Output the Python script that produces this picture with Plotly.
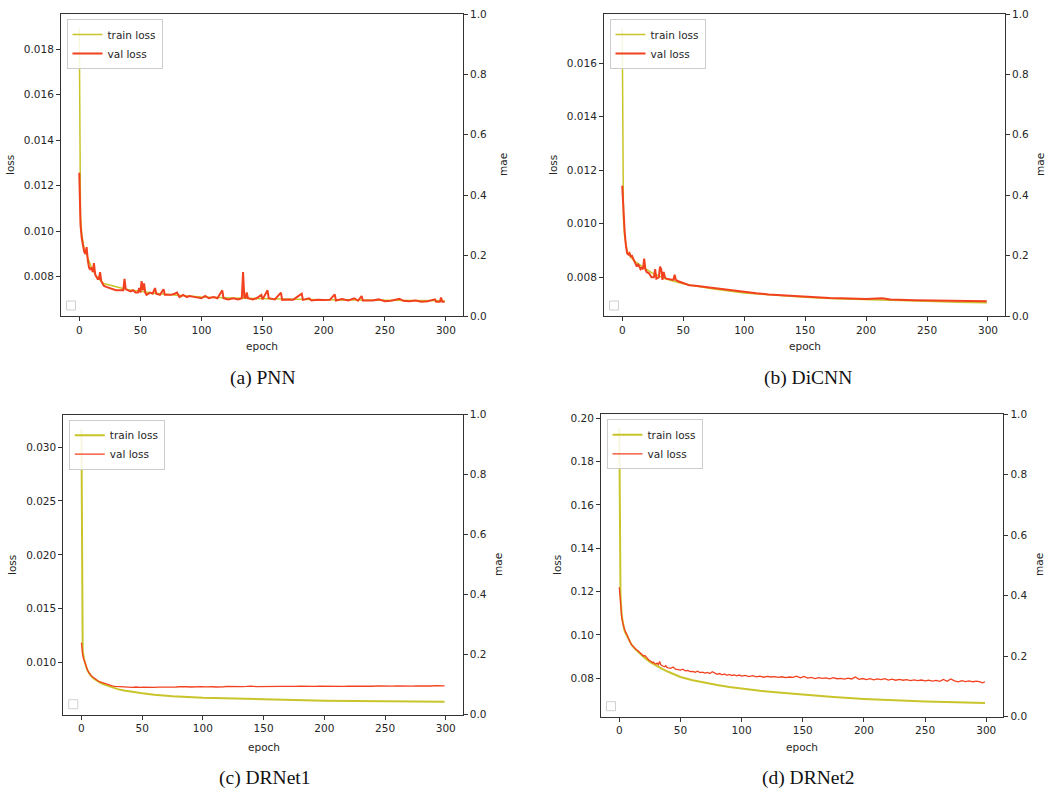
import plotly.graph_objects as go

W, H = 1062, 794

# ---------------- data ----------------
epoch_ticks = [0, 50, 100, 150, 200, 250, 300]
mae_ticks = [0.0, 0.2, 0.4, 0.6, 0.8, 1.0]
captions = ["(a) PNN", "(b) DiCNN", "(c) DRNet1", "(d) DRNet2"]
series_names = ["train loss", "val loss"]

# (a) PNN
a_train_epoch = [0, 1, 2, 3, 4, 5, 7, 10, 13, 16, 20, 25, 30, 35, 40, 50, 60, 75, 100, 125, 150, 175, 200, 250, 299]
a_train_loss = [0.0189, 0.0107, 0.0099, 0.0094, 0.0092, 0.0091, 0.0088, 0.0084, 0.0081, 0.0079, 0.0077, 0.00762,
                0.00755, 0.00749, 0.00743, 0.00735, 0.00728, 0.0072, 0.00711, 0.00706, 0.00703, 0.00701, 0.00699,
                0.00696, 0.00694]
a_val_epoch = [0, 1, 2, 3, 4, 5, 6, 7, 8, 9, 10, 11, 12, 13, 14, 15, 16, 17, 18, 20, 22, 25, 28, 30, 33, 36, 37, 38,
               40, 42, 44, 46, 48, 49, 50, 51, 52, 53, 54, 55, 58, 60, 62, 63, 66, 69, 70, 75, 78, 80, 82, 85, 88,
               90, 95, 100, 103, 106, 110, 113, 117, 118, 122, 126, 130, 133, 134, 135, 136, 137, 138, 142, 145,
               149, 150, 154, 155, 160, 165, 166, 170, 175, 178, 182, 183, 188, 190, 195, 200, 205, 209, 210, 215,
               220, 225, 228, 231, 232, 240, 245, 250, 255, 262, 265, 270, 275, 280, 285, 291, 292, 295, 296, 297,
               299]
a_val_loss = [0.01257, 0.0103, 0.0097, 0.0094, 0.0091, 0.0090, 0.0093, 0.0087, 0.0084, 0.0083, 0.0084, 0.0082,
              0.0086, 0.0081, 0.0080, 0.0079, 0.0079, 0.0082, 0.0078, 0.0076, 0.00755, 0.0075, 0.00745, 0.0074,
              0.0074, 0.0074, 0.0079, 0.00745, 0.0074, 0.00735, 0.0074, 0.0073, 0.0073, 0.0075, 0.0073, 0.0078,
              0.0074, 0.0077, 0.0073, 0.0072, 0.0073, 0.00725, 0.0075, 0.00725, 0.0072, 0.00745, 0.0072, 0.0072,
              0.00725, 0.0073, 0.0071, 0.0072, 0.0071, 0.00715, 0.0071, 0.00705, 0.00715, 0.00705, 0.0071, 0.00705,
              0.0074, 0.00705, 0.0070, 0.00705, 0.0070, 0.00705, 0.0082, 0.0071, 0.00705, 0.0073, 0.00705, 0.0070,
              0.00705, 0.0072, 0.0070, 0.0074, 0.00705, 0.0070, 0.0073, 0.00698, 0.0070, 0.00698, 0.0071, 0.00725,
              0.00698, 0.00705, 0.00695, 0.00698, 0.00697, 0.00698, 0.00722, 0.00695, 0.00702, 0.00695, 0.00705,
              0.00694, 0.00715, 0.00695, 0.00695, 0.0070, 0.00692, 0.00694, 0.00703, 0.00694, 0.00692, 0.00695,
              0.0069, 0.00692, 0.0070, 0.0069, 0.0069, 0.00708, 0.0069, 0.0069]

# (b) DiCNN
b_train_epoch = [0, 1, 2, 3, 4, 5, 7, 10, 13, 16, 20, 25, 30, 35, 40, 50, 60, 75, 100, 125, 150, 175, 200, 225, 250, 275, 299]
b_train_loss = [0.0173, 0.0102, 0.0095, 0.0092, 0.0090, 0.0089, 0.00875, 0.0086, 0.0085, 0.0084, 0.0083, 0.00815,
                0.00805, 0.00795, 0.00788, 0.00776, 0.00767, 0.00756, 0.00741, 0.00732, 0.00725, 0.0072, 0.00716,
                0.00713, 0.0071, 0.00707, 0.00705]
b_val_epoch = [0, 1, 2, 3, 4, 5, 6, 7, 8, 9, 10, 11, 12, 13, 14, 15, 16, 17, 18, 19, 20, 22, 24, 26, 27, 28, 30, 31,
               32, 33, 34, 35, 36, 40, 42, 43, 44, 46, 50, 55, 60, 65, 70, 75, 80, 85, 90, 95, 100, 110, 120, 130,
               140, 150, 160, 170, 180, 190, 200, 213, 220, 240, 260, 280, 299]
b_val_loss = [0.01142, 0.0104, 0.0097, 0.0092, 0.0089, 0.00885, 0.0089, 0.00878, 0.0088, 0.0087, 0.0086, 0.00855,
              0.0084, 0.0085, 0.0084, 0.0083, 0.00835, 0.0083, 0.0087, 0.0083, 0.0082, 0.00815, 0.0080, 0.0080,
              0.0083, 0.00795, 0.0080, 0.0084, 0.0083, 0.0079, 0.0082, 0.0080, 0.00795, 0.0079, 0.0079, 0.0081,
              0.0079, 0.00785, 0.00778, 0.0077, 0.00768, 0.00765, 0.00762, 0.0076, 0.00757, 0.00755, 0.0075, 0.00747,
              0.00745, 0.0074, 0.00736, 0.00733, 0.0073, 0.00728, 0.00725, 0.00723, 0.00722, 0.0072, 0.00719,
              0.00722, 0.00717, 0.00714, 0.00712, 0.0071, 0.0071]

# (c) DRNet1
c_train_epoch = [0, 1, 2, 3, 4, 5, 7, 10, 13, 16, 20, 25, 30, 35, 40, 50, 60, 75, 100, 125, 150, 175, 200, 225, 250, 275, 299]
c_train_loss = [0.0317, 0.0112, 0.0104, 0.0099, 0.0096, 0.0093, 0.0089, 0.00855, 0.0083, 0.00812, 0.00792, 0.00772,
                0.00755, 0.00743, 0.00733, 0.00716, 0.00703, 0.0069, 0.00676, 0.00667, 0.0066, 0.00654, 0.00648,
                0.00645, 0.00642, 0.0064, 0.00639]
c_val_epoch = [0, 1, 2, 3, 4, 5, 6, 7, 8, 9, 10, 12, 14, 16, 18, 20, 22, 24, 26, 28, 30, 33, 36, 39, 42, 45, 48, 51,
               54, 57, 60, 63, 66, 69, 72, 75, 78, 81, 84, 87, 90, 93, 96, 99, 102, 105, 108, 111, 114, 117, 120,
               124, 128, 132, 136, 140, 144, 148, 152, 156, 160, 164, 168, 172, 176, 180, 184, 188, 192, 196, 200,
               204, 208, 212, 216, 220, 224, 228, 232, 236, 240, 244, 248, 252, 256, 260, 264, 268, 272, 276, 280,
               284, 288, 292, 296, 299]
c_val_loss = [0.01185, 0.0107, 0.0103, 0.0099, 0.0096, 0.0093, 0.0091, 0.0089, 0.0088, 0.0087, 0.0086, 0.00842,
              0.00828, 0.0082, 0.00812, 0.00802, 0.00796, 0.00788, 0.00784, 0.0078, 0.00778, 0.00776, 0.00774,
              0.00776, 0.00772, 0.00775, 0.00771, 0.00774, 0.00772, 0.00775, 0.00771, 0.00774, 0.00773, 0.00777,
              0.00774, 0.00776, 0.00775, 0.00778, 0.00774, 0.00777, 0.00775, 0.00778, 0.00776, 0.00779, 0.00776,
              0.00778, 0.00777, 0.00775, 0.00779, 0.00777, 0.0078, 0.00777, 0.00779, 0.00778, 0.0078, 0.00783,
              0.00778, 0.0078, 0.00779, 0.00782, 0.00779, 0.00781, 0.0078, 0.00783, 0.0078, 0.00782, 0.00779,
              0.00783, 0.0078, 0.00782, 0.00781, 0.00784, 0.00781, 0.00783, 0.0078, 0.00783, 0.00782, 0.00785,
              0.00781, 0.00784, 0.00782, 0.00785, 0.00782, 0.00784, 0.00783, 0.00786, 0.00783, 0.00785, 0.00783,
              0.00786, 0.00784, 0.00786, 0.00784, 0.00787, 0.00784, 0.00786]

# (d) DRNet2
d_train_epoch = [0, 1, 2, 3, 4, 5, 7, 10, 13, 16, 20, 25, 30, 35, 40, 45, 50, 60, 70, 80, 90, 100, 115, 130, 150, 175, 200, 225, 250, 275, 299]
d_train_loss = [0.1955, 0.118, 0.109, 0.105, 0.1025, 0.1010, 0.0985, 0.0955, 0.0935, 0.0918, 0.0898, 0.0876, 0.0858,
                0.0843, 0.0830, 0.0817, 0.0806, 0.0791, 0.0779, 0.0769, 0.0760, 0.0752, 0.0742, 0.0734, 0.0724,
                0.0714, 0.0705, 0.0698, 0.0693, 0.0689, 0.0686]
d_val_epoch = [0, 1, 2, 3, 4, 5, 6, 7, 8, 9, 10, 11, 12, 13, 14, 15, 16, 17, 18, 19, 20, 21, 22, 23, 24, 25, 26, 27,
               28, 29, 30, 31, 32, 33, 34, 35, 36, 37, 38, 39, 40, 42, 44, 46, 48, 50, 52, 54, 56, 58, 60, 62, 64,
               66, 68, 70, 72, 74, 76, 78, 80, 82, 84, 86, 88, 90, 92, 94, 96, 98, 100, 103, 106, 109, 112, 115,
               118, 121, 124, 127, 130, 133, 136, 139, 142, 145, 148, 151, 154, 157, 160, 163, 166, 169, 172, 175,
               178, 181, 184, 187, 190, 193, 196, 199, 202, 205, 208, 211, 214, 217, 220, 223, 226, 229, 232, 235,
               238, 241, 244, 247, 250, 253, 256, 259, 262, 265, 268, 271, 274, 277, 280, 283, 286, 289, 292, 295,
               297, 299]
d_val_loss = [0.1220, 0.113, 0.108, 0.105, 0.103, 0.1015, 0.1005, 0.099, 0.0975, 0.0965, 0.0955, 0.0948, 0.0942,
              0.0938, 0.0932, 0.0928, 0.0922, 0.0915, 0.0912, 0.0906, 0.0902, 0.0905, 0.0895, 0.0892, 0.0885,
              0.0882, 0.0878, 0.0872, 0.0875, 0.0868, 0.0866, 0.0870, 0.0863, 0.0877, 0.0862, 0.0858, 0.0855,
              0.0853, 0.0858, 0.0850, 0.0848, 0.0846, 0.0852, 0.0842, 0.0840, 0.0838, 0.0842, 0.0834, 0.0836,
              0.0831, 0.0832, 0.0828, 0.0833, 0.0826, 0.0828, 0.0824, 0.0827, 0.0822, 0.0830, 0.0822, 0.0818,
              0.0822, 0.0816, 0.0820, 0.0814, 0.0818, 0.0813, 0.0816, 0.0811, 0.0815, 0.0810, 0.0813, 0.0808,
              0.0812, 0.0807, 0.0810, 0.0805, 0.0809, 0.0806, 0.0808, 0.0804, 0.0807, 0.0803, 0.0806, 0.0804,
              0.0810, 0.0802, 0.0809, 0.0801, 0.0804, 0.0799, 0.0803, 0.0800, 0.0802, 0.0797, 0.0803, 0.0798,
              0.0800, 0.0796, 0.0801, 0.0797, 0.0806, 0.0795, 0.0799, 0.0794, 0.0798, 0.0793, 0.0797, 0.0794,
              0.0798, 0.0792, 0.0796, 0.0791, 0.0795, 0.0791, 0.0794, 0.0789, 0.0793, 0.0789, 0.0792, 0.0788,
              0.0791, 0.0787, 0.0790, 0.0786, 0.0795, 0.0786, 0.0797, 0.0788, 0.0784, 0.0789, 0.0785, 0.0788,
              0.0784, 0.0787, 0.0783, 0.0779, 0.0784]

loss_ticks = [
    [0.008, 0.010, 0.012, 0.014, 0.016, 0.018],
    [0.008, 0.010, 0.012, 0.014, 0.016],
    [0.010, 0.015, 0.020, 0.025, 0.030],
    [0.08, 0.10, 0.12, 0.14, 0.16, 0.18, 0.20],
]

# ---------------- layout / style ----------------
TRAIN_C = "#c9c42a"
VAL_C = "#f2411f"
AX_C = "#333333"
TXT_C = "#262626"
SANS = "DejaVu Sans"
SERIF = "Liberation Serif"

panels = [
    dict(train=(a_train_epoch, a_train_loss), val=(a_val_epoch, a_val_loss),
         box=(61, 14, 463, 316), yr=[0.00627, 0.01955], fmt=".3f", vw=2.0, tw=1.5,
         cap=(263, 378), loss=(10, 165), mae=(503, 165), ep=(262, 346)),
    dict(train=(b_train_epoch, b_train_loss), val=(b_val_epoch, b_val_loss),
         box=(604, 14, 1005, 316), yr=[0.006553, 0.01784], fmt=".3f", vw=2.0, tw=1.5,
         cap=(808, 378), loss=(553, 165), mae=(1040, 165), ep=(805, 346)),
    dict(train=(c_train_epoch, c_train_loss), val=(c_val_epoch, c_val_loss),
         box=(63.3, 414.7, 462.7, 714.7), yr=[0.00518, 0.0330], fmt=".3f", vw=1.3, tw=2.0,
         cap=(265, 778), loss=(12, 565), mae=(498, 565), ep=(264, 747)),
    dict(train=(d_train_epoch, d_train_loss), val=(d_val_epoch, d_val_loss),
         box=(601, 414.3, 1003.3, 716.7), yr=[0.06228, 0.2018], fmt=".2f", vw=1.3, tw=2.0,
         cap=(808, 778), loss=(557, 565), mae=(1039, 565), ep=(802, 747)),
]

fig = go.Figure()
layout = dict(
    width=W, height=H, margin=dict(l=0, r=0, t=0, b=0, autoexpand=False),
    paper_bgcolor="white", plot_bgcolor="white",
    font=dict(family=SANS, size=10.5, color=TXT_C),
    showlegend=True,
)
annotations = []
shapes = []


def px(x):
    return x / W


def py(y):
    return 1 - y / H


for k, p in enumerate(panels):
    i = k + 1
    xs = "" if i == 1 else str(i)
    yl = 2 * k + 1
    yr_ = 2 * k + 2
    yls = "" if yl == 1 else str(yl)
    leg = "legend" if i == 1 else f"legend{i}"
    L, T, R, B = p["box"]

    fig.add_trace(go.Scatter(x=p["train"][0], y=p["train"][1], mode="lines", name=series_names[0],
                             line=dict(color=TRAIN_C, width=p["tw"]),
                             xaxis="x" + xs, yaxis="y" + yls, legend=leg))
    fig.add_trace(go.Scatter(x=p["val"][0], y=p["val"][1], mode="lines", name=series_names[1],
                             line=dict(color=VAL_C, width=p["vw"]),
                             xaxis="x" + xs, yaxis="y" + yls, legend=leg))
    fig.add_trace(go.Scatter(x=[None], y=[None], mode="lines", showlegend=False,
                             xaxis="x" + xs, yaxis=f"y{yr_}"))

    layout["xaxis" + xs] = dict(
        domain=[px(L), px(R)], anchor="y" + yls, range=[-14.95, 313.95],
        tickvals=epoch_ticks, ticks="outside", ticklen=4, tickcolor=AX_C,
        showline=True, linecolor=AX_C, linewidth=1, mirror=True,
        showgrid=False, zeroline=False, tickfont=dict(size=10.5, color=TXT_C),
    )
    layout["yaxis" + yls] = dict(
        domain=[py(B), py(T)], anchor="x" + xs, range=p["yr"],
        tickvals=loss_ticks[k], tickformat=p["fmt"], ticks="outside", ticklen=4, tickcolor=AX_C,
        showline=True, linecolor=AX_C, linewidth=1, mirror=False,
        showgrid=False, zeroline=False, tickfont=dict(size=10.5, color=TXT_C),
    )
    layout[f"yaxis{yr_}"] = dict(
        overlaying="y" + yls, anchor="x" + xs, side="right", range=[0, 1],
        tickvals=mae_ticks, tickformat=".1f", ticks="outside", ticklen=4, tickcolor=AX_C,
        showline=True, linecolor=AX_C, linewidth=1,
        showgrid=False, zeroline=False, tickfont=dict(size=10.5, color=TXT_C),
    )
    layout[leg] = dict(
        x=px(L + 5.5), y=py(T + 5), xanchor="left", yanchor="top",
        bgcolor="rgba(255,255,255,0.85)", bordercolor="#cccccc", borderwidth=1,
        font=dict(family=SANS, size=10.5, color=TXT_C), itemwidth=30,
        tracegroupgap=0,
    )
    # empty legend box (mae axis) in lower left
    shapes.append(dict(type="rect", xref="paper", yref="paper",
                       x0=px(L + 5.5), x1=px(L + 14.5), y0=py(B - 6), y1=py(B - 15),
                       line=dict(color="#d0d0d0", width=1), fillcolor="white"))
    common = dict(xref="paper", yref="paper", showarrow=False, xanchor="center", yanchor="middle")
    annotations += [
        dict(text="loss", x=px(p["loss"][0]), y=py(p["loss"][1]), textangle=-90,
             font=dict(size=10.5, color=TXT_C), **common),
        dict(text="mae", x=px(p["mae"][0]), y=py(p["mae"][1]), textangle=-90,
             font=dict(size=10.5, color=TXT_C), **common),
        dict(text="epoch", x=px(p["ep"][0]), y=py(p["ep"][1]),
             font=dict(size=10.5, color=TXT_C), **common),
        dict(text=captions[k], x=px(p["cap"][0]), y=py(p["cap"][1]),
             font=dict(family=SERIF, size=19.5, color="#111111"), **common),
    ]

layout["annotations"] = annotations
layout["shapes"] = shapes
fig.update_layout(**layout)
fig.write_html("out.html", config={"displayModeBar": False},
               post_script="document.body.style.margin='0';")
